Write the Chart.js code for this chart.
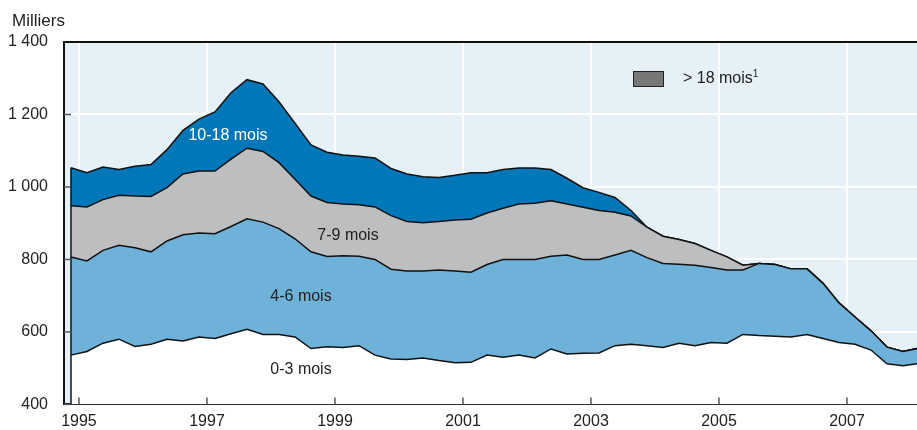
<!DOCTYPE html>
<html>
<head>
<meta charset="utf-8">
<script src="https://cdn.jsdelivr.net/npm/chart.js@4.4.0/dist/chart.umd.min.js"></script>
<style>
  body { margin: 0; background: #fff; }
  #wrap { position: relative; width: 917px; height: 430px; font-family: "Liberation Sans", Arial, sans-serif; color: #222; }
  #wrap canvas { position: absolute; left: 0; top: 0; }
  .lbl { position: absolute; font-size: 16px; white-space: nowrap; transform: translate(-50%, -50%); }
  #unit { position: absolute; left: 12px; top: 11px; font-size: 17px; }
  #legBox { position: absolute; left: 633px; top: 71px; width: 29px; height: 14px; background: #777; border: 1px solid #222; }
  #legTxt { position: absolute; left: 683px; top: 69px; font-size: 16px; }
  #legTxt sup { font-size: 10px; vertical-align: 6px; line-height: 0; }
</style>
</head>
<body>
<div id="wrap">
  <canvas id="chart" width="917" height="430"></canvas>
  <div id="unit">Milliers</div>
  <div class="lbl" style="left:228px; top:135px; color:#fff;">10-18 mois</div>
  <div class="lbl" style="left:348px; top:235px;">7-9 mois</div>
  <div class="lbl" style="left:301px; top:296px;">4-6 mois</div>
  <div class="lbl" style="left:301px; top:369px;">0-3 mois</div>
  <div id="legBox"></div>
  <div id="legTxt">&gt; 18 mois<sup>1</sup></div>
</div>
<script>
// quarterly points (mid-quarter), Q4 1994 .. Q1 2008
const quarters = [
  1994.875, 1995.125, 1995.375, 1995.625, 1995.875, 1996.125, 1996.375, 1996.625, 1996.875,
  1997.125, 1997.375, 1997.625, 1997.875, 1998.125, 1998.375, 1998.625, 1998.875,
  1999.125, 1999.375, 1999.625, 1999.875, 2000.125, 2000.375, 2000.625, 2000.875,
  2001.125, 2001.375, 2001.625, 2001.875, 2002.125, 2002.375, 2002.625, 2002.875,
  2003.125, 2003.375, 2003.625, 2003.875, 2004.125, 2004.375, 2004.625, 2004.875,
  2005.125, 2005.375, 2005.625, 2005.875, 2006.125, 2006.375, 2006.625, 2006.875,
  2007.125, 2007.375, 2007.625, 2007.875, 2008.125
];

// thousands of unemployed by duration
const mois0_3 = [
  536, 546, 569, 580, 560, 566, 580, 575, 586,
  582, 595, 607, 593, 593, 586, 554, 559,
  557, 562, 536, 525, 524, 528, 521, 515,
  516, 536, 530, 536, 528, 553, 539, 541,
  542, 562, 566, 562, 557, 569, 562, 571,
  569, 593, 590, 588, 586, 593, 582, 571,
  566, 550, 512, 507, 513
];
const mois4_6 = [
  271, 250, 256, 259, 272, 255, 271, 293, 287,
  289, 296, 305, 310, 292, 271, 267, 249,
  253, 247, 264, 248, 244, 240, 250, 253,
  249, 250, 270, 264, 272, 256, 273, 259,
  258, 250, 259, 243, 232, 218, 222, 207,
  202, 178, 199, 198, 188, 181, 152, 109,
  75, 53, 46, 39, 42
];
const mois7_9 = [
  141, 149, 140, 138, 143, 153, 147, 168, 171,
  173, 186, 195, 195, 182, 164, 154, 149,
  143, 142, 145, 148, 137, 133, 134, 141,
  146, 142, 141, 153, 155, 153, 141, 144,
  135, 118, 95, 84, 75, 68, 60, 47,
  36, 13, 0, 0, 0, 0, 0, 0,
  0, 0, 0, 0, 0
];
const mois10_18 = [
  105, 94, 90, 71, 82, 88, 105, 120, 143,
  163, 183, 189, 186, 168, 155, 141, 139,
  135, 134, 135, 130, 131, 127, 121, 123,
  128, 111, 107, 99, 97, 86, 71, 54,
  50, 41, 15, 0, 0, 0, 0, 0,
  0, 0, 0, 0, 0, 0, 0, 0,
  0, 0, 0, 0, 0
];

const yearTicks = [1995, 1997, 1999, 2001, 2003, 2005, 2007];
const valueTicks = [400, 600, 800, 1000, 1200, 1400];

const FONT = "Liberation Sans, Arial, sans-serif";

function series(values) {
  return values.map((v, i) => ({ x: quarters[i], y: v }));
}

function layer(label, values, color, fill) {
  return {
    label: label,
    data: series(values),
    backgroundColor: color,
    borderColor: "#111",
    borderWidth: 1.5,
    pointRadius: 0,
    tension: 0,
    fill: fill
  };
}

const decor = {
  id: "decor",
  beforeDraw(chart) {
    const { ctx, chartArea: a } = chart;
    ctx.save();
    ctx.fillStyle = "#e5f0f7";
    ctx.fillRect(a.left, a.top, a.right - a.left, a.bottom - a.top);
    ctx.restore();
  },
  afterDatasetsDraw(chart) {
    const { ctx, chartArea: a, scales } = chart;
    ctx.save();
    // left edge of the stack
    const top = chart.getDatasetMeta(3).data[0];
    ctx.strokeStyle = "#111";
    ctx.lineWidth = 1.5;
    ctx.beginPath();
    ctx.moveTo(top.x, top.y);
    ctx.lineTo(top.x, a.bottom);
    ctx.stroke();
    // inside tick marks
    ctx.strokeStyle = "#555";
    ctx.lineWidth = 1.5;
    yearTicks.forEach(v => {
      const x = scales.x.getPixelForValue(v);
      ctx.beginPath();
      ctx.moveTo(x, a.bottom);
      ctx.lineTo(x, a.bottom - 7);
      ctx.stroke();
    });
    valueTicks.forEach(v => {
      const y = scales.y.getPixelForValue(v);
      ctx.beginPath();
      ctx.moveTo(a.left, y);
      ctx.lineTo(a.left + 7, y);
      ctx.stroke();
    });
    // frame top
    ctx.strokeStyle = "#111";
    ctx.lineWidth = 2;
    ctx.beginPath();
    ctx.moveTo(a.left - 1, a.top);
    ctx.lineTo(a.right, a.top);
    ctx.stroke();
    ctx.restore();
  }
};

new Chart(document.getElementById("chart"), {
  type: "line",
  data: {
    datasets: [
      layer("0-3 mois", mois0_3, "#ffffff", "origin"),
      layer("4-6 mois", mois4_6, "#6fb2d9", "-1"),
      layer("7-9 mois", mois7_9, "#bdbec0", "-1"),
      layer("10-18 mois", mois10_18, "#0077b9", "-1")
    ]
  },
  options: {
    responsive: false,
    animation: false,
    layout: { padding: { top: 42, right: 0, left: 0, bottom: 0 } },
    plugins: { legend: { display: false }, tooltip: { enabled: false } },
    scales: {
      x: {
        type: "linear",
        min: 1994.766,
        max: 2008.094,
        afterBuildTicks: s => { s.ticks = yearTicks.map(v => ({ value: v })); },
        afterFit: s => { s.height = 23; },
        grid: { color: "#ffffff", lineWidth: 2, drawTicks: false },
        border: { display: true, color: "#111", width: 2 },
        ticks: {
          padding: 8,
          color: "#222",
          font: { family: FONT, size: 16 },
          maxRotation: 0,
          callback: v => String(v)
        }
      },
      y: {
        stacked: true,
        min: 400,
        max: 1400,
        afterBuildTicks: s => { s.ticks = valueTicks.map(v => ({ value: v })); },
        afterFit: s => { s.width = 64; },
        grid: { color: "#ffffff", lineWidth: 2, drawTicks: false },
        border: { display: true, color: "#111", width: 2 },
        ticks: {
          padding: 16,
          color: "#222",
          font: { family: FONT, size: 16 },
          callback: v => String(v).replace(/\B(?=(\d{3})+(?!\d))/g, " ")
        }
      }
    }
  },
  plugins: [decor]
});
</script>
</body>
</html>
